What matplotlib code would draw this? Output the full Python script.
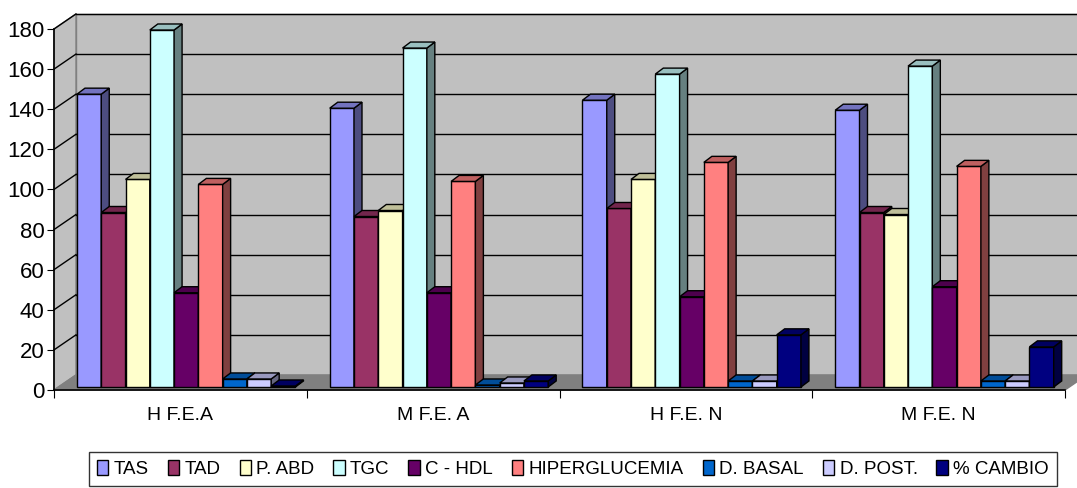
import numpy as np
import matplotlib
matplotlib.use("Agg")
from matplotlib import pyplot as plt
from matplotlib.patches import Polygon, Rectangle
from matplotlib.colors import to_rgb

# data
groups = ["H F.E.A", "M F.E. A", "H F.E. N", "M F.E. N"]
series = ["TAS", "TAD", "P. ABD", "TGC", "C - HDL", "HIPERGLUCEMIA",
          "D. BASAL", "D. POST.", "% CAMBIO"]
tas = [146, 139, 143, 138]
tad = [87, 85, 89, 87]
p_abd = [103.5, 88, 103.5, 86]
tgc = [178, 169, 156, 160]
c_hdl = [47, 47, 45, 50]
hiperglucemia = [101, 102.5, 112, 110]
d_basal = [4, 1, 3, 3]
d_post = [4, 2, 3, 3]
cambio = [0.5, 3, 26, 20]
values = [tas, tad, p_abd, tgc, c_hdl, hiperglucemia, d_basal, d_post, cambio]
colors = ["#9999FF", "#993366", "#FFFFCC", "#CCFFFF", "#660066", "#FF8080",
          "#0066CC", "#CCCCFF", "#000080"]

plt.rcParams['font.family'] = ['Liberation Sans', 'DejaVu Sans']

fig = plt.figure(figsize=(10.77, 4.88), dpi=100)
ax = fig.add_axes([54/1077, 98/488, 1011/1077, 361/488])
ax.set_xlim(0, 4)
ax.set_ylim(0, 180)
ax.patch.set_visible(False)

# depth of the box (data units)
DX, DY = 22/253, 7.5
# bar placement inside the depth
FX, FY = 4.4/253, 1.5
SDX, SDY = 8/253, 3.0
W = 24.3/253
START = 18.6/253

# walls and floor
wall = "#C0C0C0"
ax.add_patch(Polygon([(DX, DY), (4+DX, DY), (4+DX, 180+DY), (DX, 180+DY)],
                     closed=True, fc=wall, ec="#808080", lw=1, clip_on=False, zorder=0))
ax.add_patch(Polygon([(0, 0), (DX, DY), (DX, 180+DY), (0, 180)],
                     closed=True, fc=wall, ec="#808080", lw=1, clip_on=False, zorder=0))
ax.add_patch(Polygon([(0, 0), (4, 0), (4+DX, DY), (DX, DY)],
                     closed=True, fc="#808080", ec="#808080", lw=1, clip_on=False, zorder=0.5))
for v in range(20, 181, 20):
    ax.plot([DX, 4+DX], [v+DY, v+DY], color="black", lw=1, clip_on=False, zorder=0.3)
    ax.plot([0, DX], [v, v+DY], color="black", lw=1, clip_on=False, zorder=0.3)

def shade(c, f):
    r, g, b = to_rgb(c)
    return (r*f, g*f, b*f)

z = 2
for i in range(len(groups)):
    for j, (vals, c) in enumerate(zip(values, colors)):
        v = vals[i]
        x0 = i + START + FX + j*W
        x1 = x0 + W
        y0 = FY
        y1 = FY + v
        ax.add_patch(Rectangle((x0, y0), W, v, fc=c, ec="black", lw=1,
                               clip_on=False, zorder=z))
        ax.add_patch(Polygon([(x1, y0), (x1+SDX, y0+SDY), (x1+SDX, y1+SDY), (x1, y1)],
                             closed=True, fc=shade(c, 0.5), ec="black", lw=1,
                             clip_on=False, zorder=z))
        ax.add_patch(Polygon([(x0, y1), (x0+SDX, y1+SDY), (x1+SDX, y1+SDY), (x1, y1)],
                             closed=True, fc=shade(c, 0.75), ec="black", lw=1,
                             clip_on=False, zorder=z))
        z += 0.01

# axes
for s in ["top", "right"]:
    ax.spines[s].set_visible(False)
for s in ["left", "bottom"]:
    ax.spines[s].set_color("black")
    ax.spines[s].set_linewidth(1.2)
    ax.spines[s].set_zorder(10)
ax.set_yticks(range(0, 181, 20))
ax.tick_params(axis="y", direction="out", length=5, labelsize=16, pad=2)
ax.set_xticks([0, 1, 2, 3, 4])
ax.set_xticklabels([])
ax.tick_params(axis="x", which="major", direction="out", length=6)
ax.set_xticks([0.5, 1.5, 2.5, 3.5], minor=True)
ax.set_xticklabels(groups, minor=True)
ax.tick_params(axis="x", which="minor", length=0, labelsize=14, pad=12)

handles = [Rectangle((0, 0), 1, 1, fc=c, ec="black", lw=1) for c in colors]
leg = fig.legend(handles, series, loc="center", bbox_to_anchor=(573/1077, 1-469/488),
                 ncol=9, frameon=True, fancybox=False, edgecolor="black",
                 fontsize=13.5, handlelength=0.6, handleheight=0.8, handletextpad=0.3,
                 columnspacing=1.0, borderpad=0.45, borderaxespad=0)
leg.get_frame().set_linewidth(1)

fig.savefig("out.png", dpi=100)
